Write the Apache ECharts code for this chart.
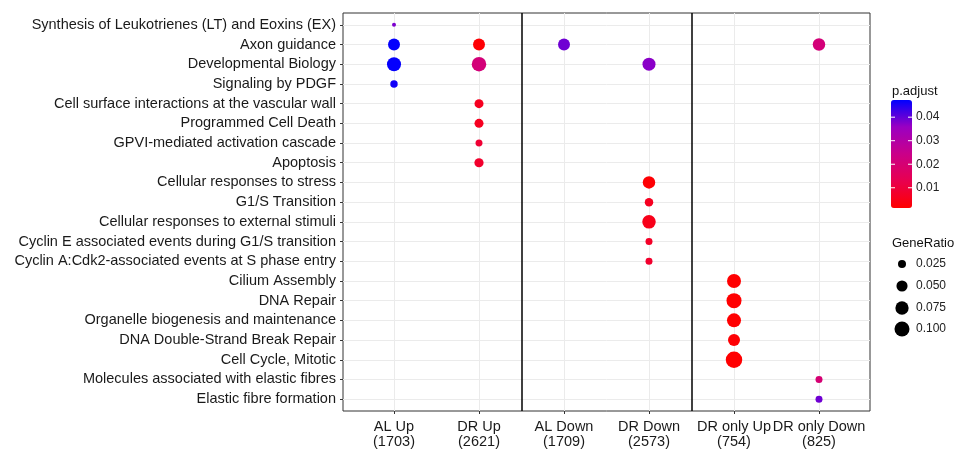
<!DOCTYPE html>
<html><head><meta charset="utf-8">
<script src="https://cdn.jsdelivr.net/npm/echarts@6/dist/echarts.min.js"></script>
<style>html,body{margin:0;padding:0;background:#fff}#c{width:957px;height:451px}</style>
</head><body><div id="c"></div>
<script>
const terms = [
  'Synthesis of Leukotrienes (LT) and Eoxins (EX)',
  'Axon guidance',
  'Developmental Biology',
  'Signaling by PDGF',
  'Cell surface interactions at the vascular wall',
  'Programmed Cell Death',
  'GPVI-mediated activation cascade',
  'Apoptosis',
  'Cellular responses to stress',
  'G1/S Transition',
  'Cellular responses to external stimuli',
  'Cyclin E associated events during G1/S transition',
  'Cyclin A:Cdk2-associated events at S phase entry',
  'Cilium Assembly',
  'DNA Repair',
  'Organelle biogenesis and maintenance',
  'DNA Double-Strand Break Repair',
  'Cell Cycle, Mitotic',
  'Molecules associated with elastic fibres',
  'Elastic fibre formation'
];
const clusters = ['AL Up\n(1703)','DR Up\n(2621)','AL Down\n(1709)','DR Down\n(2573)','DR only Up\n(754)','DR only Down\n(825)'];
// points: cluster index (1-based), term index (1-based), GeneRatio, p.adjust
const pointCluster = [1, 1,2,3,6, 1,2,4, 1, 2,2,2,2, 4,4,4,4,4, 5,5,5,5,5, 6,6];
const pointTerm    = [1, 2,2,2,2, 3,3,3, 4, 5,6,7,8, 9,10,11,12,13, 14,15,16,17,18, 19,20];
const geneRatio    = [0.0136, 0.059,0.059,0.059,0.065, 0.085,0.092,0.072, 0.022, 0.0315,0.0315,0.020,0.033, 0.065,0.028,0.078,0.020,0.020, 0.085,0.100,0.085,0.059,0.125, 0.020,0.020];
const pAdjust      = [0.038, 0.047,0.002,0.039,0.021, 0.047,0.021,0.037, 0.046, 0.006,0.006,0.009,0.008, 0.002,0.006,0.005,0.007,0.008, 0.0015,0.0015,0.0016,0.002,0.0015, 0.020,0.039];
const colorTicks = [0.01, 0.02, 0.03, 0.04];
const sizeTicks = [0.025, 0.050, 0.075, 0.100];
const pMin = 0.0014, pMax = 0.0473;

const rMin = Math.min(...geneRatio), rMax = Math.max(...geneRatio);
function dotSize(v){ return 4 + 12.5*Math.sqrt(Math.max(0,(v - rMin)/(rMax - rMin))); }

const data = pointCluster.map((c,i)=>[c, pointTerm[i], geneRatio[i], pAdjust[i]]);
const xs = clusters.map((_,i)=>i+1);
const ys = terms.map((_,i)=>i+1);

const font = '"Liberation Sans", Arial, sans-serif';
const chart = echarts.init(document.getElementById('c'), null, {renderer:'canvas'});

// legend graphics
const barTop = 100, barH = 108, barLeft = 891, barW = 21;
const graphics = [];
graphics.push({type:'text', left:892, top:85, style:{text:'p.adjust', font:'13px '+font, fill:'#111'}});
colorTicks.forEach(v=>{
  const y = barTop + (pMax - v)/(pMax - pMin)*barH;
  graphics.push({type:'line', shape:{x1:barLeft, y1:y, x2:barLeft+4, y2:y}, style:{stroke:'#fff', lineWidth:1}, z:100});
  graphics.push({type:'line', shape:{x1:barLeft+barW-4, y1:y, x2:barLeft+barW, y2:y}, style:{stroke:'#fff', lineWidth:1}, z:100});
  graphics.push({type:'text', x:916, y:y, style:{text:v.toFixed(2), font:'12px '+font, fill:'#222', verticalAlign:'middle'}});
});
graphics.push({type:'text', left:892, top:237, style:{text:'GeneRatio', font:'13px '+font, fill:'#111'}});
const sizeY = [264, 286, 308, 329];
sizeTicks.forEach((v,i)=>{
  graphics.push({type:'circle', shape:{cx:902, cy:sizeY[i], r:dotSize(v)/2}, style:{fill:'#000'}});
  graphics.push({type:'text', x:916, y:sizeY[i], style:{text:v.toFixed(3), font:'12px '+font, fill:'#222', verticalAlign:'middle'}});
});

chart.setOption({
  animation:false,
  backgroundColor:'#fff',
  grid:{left:343, right:87, top:13, bottom:40, show:true, borderColor:'#333', borderWidth:1, backgroundColor:'transparent'},
  xAxis:{type:'value', min:0.4, max:6.6,
    axisLine:{show:false},
    axisTick:{show:true, customValues:xs, length:3, lineStyle:{color:'#333'}},
    axisLabel:{customValues:xs, formatter:v=>clusters[Math.round(v)-1], fontSize:14.5, fontFamily:font, color:'#1a1a1a', lineHeight:15, margin:8},
    splitLine:{show:false}},
  yAxis:{type:'value', min:0.4, max:20.6, inverse:true,
    axisLine:{show:false},
    axisTick:{show:true, customValues:ys, length:3, lineStyle:{color:'#333'}},
    axisLabel:{customValues:ys, formatter:v=>terms[Math.round(v)-1], fontSize:14.5, fontFamily:font, color:'#1a1a1a', margin:7},
    splitLine:{show:false}},
  visualMap:{type:'continuous', seriesIndex:2, dimension:3, min:pMin, max:pMax,
    inRange:{color:['#FF0000','#E8004F','#CA0089','#9A00C2','#0000FF']},
    left:barLeft, top:barTop, itemWidth:barW, itemHeight:barH, padding:0,
    calculable:false, hoverLink:false, text:null, showLabel:false},
  graphic:graphics,
  series:[
    {type:'scatter', data:[], silent:true, z:1,
      markLine:{silent:true, symbol:'none', animation:false, label:{show:false},
        lineStyle:{color:'#EBEBEB', width:1, type:'solid'},
        data: xs.map(v=>({xAxis:v})).concat(ys.map(v=>({yAxis:v})))}},
    {type:'scatter', data:[], silent:true, z:2,
      markLine:{silent:true, symbol:'none', animation:false, label:{show:false},
        lineStyle:{color:'#000', width:1.5, type:'solid'},
        data:[{xAxis:2.5},{xAxis:4.5}]}},
    {type:'scatter', data:data, z:5, symbolSize:(v)=>dotSize(v[2]),
      itemStyle:{opacity:1}}
  ]
});
</script></body></html>
